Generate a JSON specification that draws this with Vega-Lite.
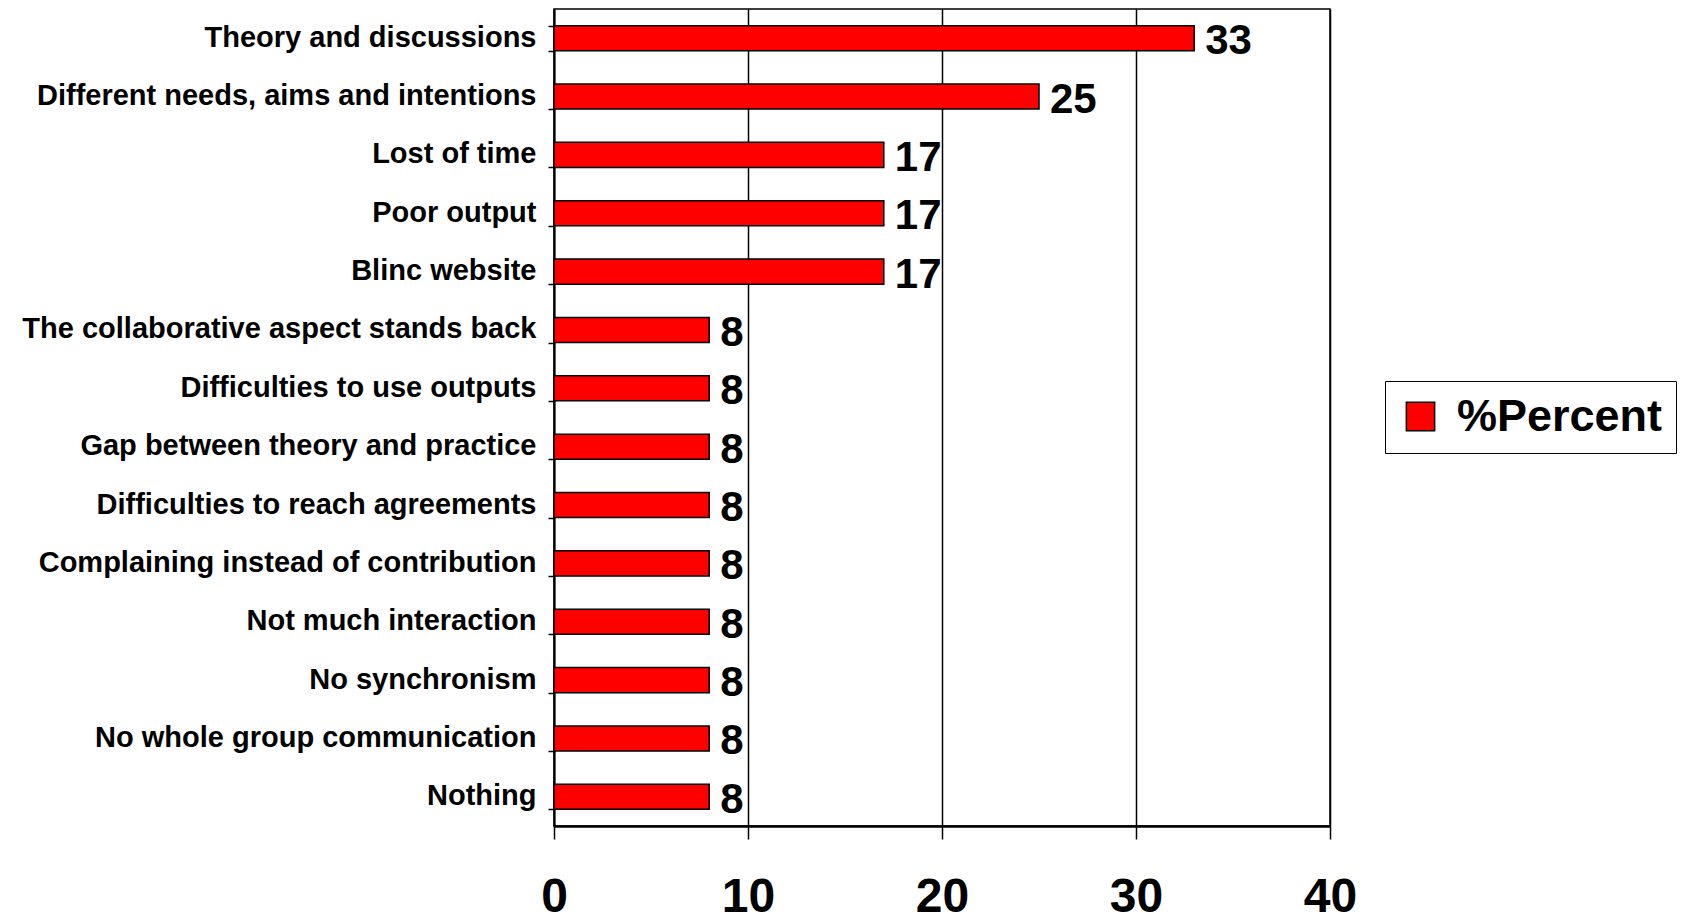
{
  "$schema": "https://vega.github.io/schema/vega-lite/v6.json",
  "autosize": {"type": "none"},
  "padding": {"left": 554, "top": 9, "right": 355, "bottom": 95},
  "width": 776,
  "height": 817,
  "background": "white",
  "config": {
    "font": "Liberation Sans",
    "view": {"stroke": "black", "strokeWidth": 1.5},
    "legend": {
      "orient": "none",
      "legendX": 831,
      "legendY": 372,
      "strokeColor": "black",
      "fillColor": "white",
      "padding": 13,
      "symbolType": "square",
      "symbolSize": 800,
      "symbolFillColor": "#ff0000",
      "symbolStrokeColor": "black",
      "symbolStrokeWidth": 1.5,
      "symbolOpacity": 1,
      "labelFont": "Liberation Sans",
      "labelFontSize": 45,
      "labelFontWeight": "bold",
      "labelColor": "black",
      "labelOffset": 14,
      "labelLimit": 400
    }
  },
  "data": {
    "values": [
      {"item": "Theory and discussions", "value": 33, "series": "%Percent"},
      {"item": "Different needs, aims and intentions", "value": 25, "series": "%Percent"},
      {"item": "Lost of time", "value": 17, "series": "%Percent"},
      {"item": "Poor output", "value": 17, "series": "%Percent"},
      {"item": "Blinc website", "value": 17, "series": "%Percent"},
      {"item": "The collaborative aspect stands back", "value": 8, "series": "%Percent"},
      {"item": "Difficulties to use outputs", "value": 8, "series": "%Percent"},
      {"item": "Gap between theory and practice", "value": 8, "series": "%Percent"},
      {"item": "Difficulties to reach agreements", "value": 8, "series": "%Percent"},
      {"item": "Complaining instead of contribution", "value": 8, "series": "%Percent"},
      {"item": "Not much interaction", "value": 8, "series": "%Percent"},
      {"item": "No synchronism", "value": 8, "series": "%Percent"},
      {"item": "No whole group communication", "value": 8, "series": "%Percent"},
      {"item": "Nothing", "value": 8, "series": "%Percent"}
    ]
  },
  "encoding": {
    "y": {
      "field": "item",
      "type": "nominal",
      "sort": null,
      "scale": {"paddingInner": 0.57, "paddingOuter": 0.285},
      "axis": {
        "title": null,
        "tickBand": "extent",
        "tickSize": 6,
        "tickColor": "black",
        "tickWidth": 1.5,
        "domainColor": "black",
        "domainWidth": 2,
        "labelFont": "Liberation Sans",
        "labelFontSize": 29,
        "labelFontWeight": "bold",
        "labelColor": "black",
        "labelPadding": 12,
        "labelOffset": -1,
        "labelLimit": 600
      }
    },
    "x": {
      "field": "value",
      "type": "quantitative",
      "scale": {"domain": [0, 40], "nice": false},
      "axis": {
        "title": null,
        "values": [0, 10, 20, 30, 40],
        "grid": true,
        "gridColor": "black",
        "gridWidth": 1.5,
        "gridOpacity": 1,
        "tickSize": 13,
        "tickColor": "black",
        "tickWidth": 1.5,
        "domainColor": "black",
        "domainWidth": 2.5,
        "labelFont": "Liberation Sans",
        "labelFontSize": 48,
        "labelFontWeight": "bold",
        "labelColor": "black",
        "labelPadding": 34,
        "labelFlush": false
      }
    }
  },
  "layer": [
    {
      "mark": {"type": "bar", "stroke": "black", "strokeWidth": 1.5},
      "encoding": {
        "color": {
          "field": "series",
          "type": "nominal",
          "scale": {"range": ["#ff0000"]},
          "legend": {"title": null}
        }
      }
    },
    {
      "mark": {"type": "text", "align": "left", "baseline": "middle", "dx": 11, "dy": 3, "fontSize": 42, "fontWeight": "bold", "font": "Liberation Sans", "color": "black"},
      "encoding": {"text": {"field": "value", "type": "quantitative"}}
    }
  ]
}
